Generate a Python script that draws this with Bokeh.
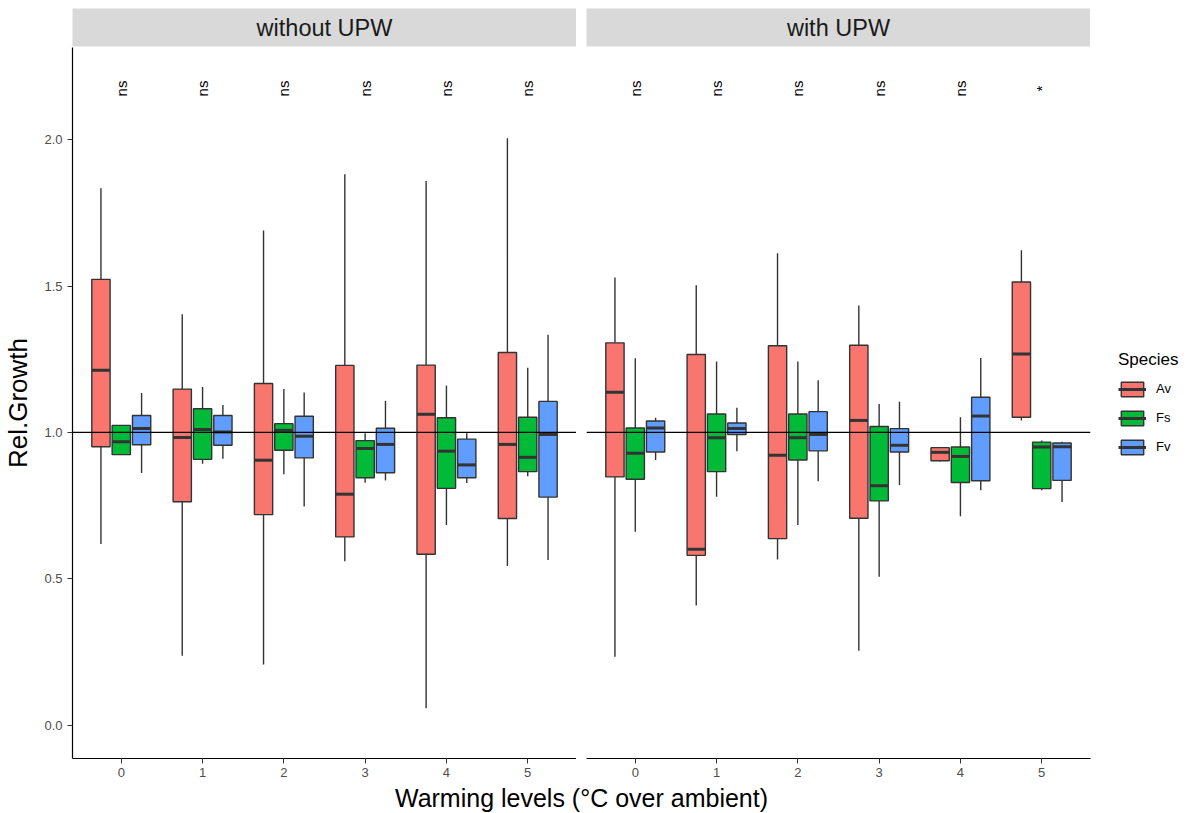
import numpy as np
from bokeh.plotting import figure
from bokeh.models import (Range1d, FixedTicker, Span, Label, Legend, LegendItem,
                          ColumnDataSource, NumeralTickFormatter)
from bokeh.layouts import column, row
from bokeh.embed import file_html
from bokeh.resources import INLINE
from bokeh.core.properties import value

# ---------------- data ----------------
levels = ["0", "1", "2", "3", "4", "5"]
species = ["Av", "Fs", "Fv"]
colors = ["#F8766D", "#00BA38", "#619CFF"]
facets = ["without UPW", "with UPW"]

# (lower whisker, Q1, median, Q3, upper whisker) per warming level 0..5
without_Av = [(0.619, 0.951, 1.212, 1.523, 1.834), (0.237, 0.763, 0.983, 1.148, 1.404),
              (0.207, 0.719, 0.905, 1.167, 1.690), (0.560, 0.643, 0.789, 1.229, 1.882),
              (0.058, 0.584, 1.062, 1.230, 1.859), (0.544, 0.706, 0.959, 1.273, 2.005)]
without_Fs = [(0.924, 0.924, 0.968, 1.024, 1.024), (0.893, 0.908, 1.010, 1.081, 1.155),
              (0.857, 0.939, 1.007, 1.030, 1.148), (0.828, 0.845, 0.945, 0.972, 0.997),
              (0.684, 0.809, 0.936, 1.050, 1.160), (0.850, 0.866, 0.915, 1.052, 1.221)]
without_Fv = [(0.861, 0.958, 1.013, 1.058, 1.135), (0.910, 0.956, 1.001, 1.058, 1.094),
              (0.747, 0.913, 0.987, 1.055, 1.136), (0.836, 0.862, 0.959, 1.014, 1.108),
              (0.827, 0.845, 0.889, 0.977, 0.997), (0.564, 0.779, 0.993, 1.106, 1.334)]
with_Av = [(0.234, 0.848, 1.137, 1.306, 1.529), (0.409, 0.580, 0.601, 1.266, 1.503),
           (0.566, 0.637, 0.922, 1.296, 1.612), (0.254, 0.707, 1.041, 1.298, 1.434),
           (0.901, 0.903, 0.932, 0.948, 0.950), (1.041, 1.052, 1.268, 1.514, 1.622)]
with_Fs = [(0.661, 0.840, 0.929, 1.015, 1.253), (0.780, 0.866, 0.982, 1.063, 1.242),
           (0.684, 0.906, 0.982, 1.063, 1.242), (0.507, 0.766, 0.818, 1.020, 1.097),
           (0.714, 0.829, 0.918, 0.950, 1.052), (0.802, 0.808, 0.950, 0.967, 0.972)]
with_Fv = [(0.906, 0.933, 1.015, 1.039, 1.050), (0.936, 0.993, 1.013, 1.032, 1.084),
           (0.833, 0.937, 0.993, 1.071, 1.178), (0.820, 0.933, 0.956, 1.013, 1.105),
           (0.802, 0.835, 1.056, 1.120, 1.254), (0.762, 0.836, 0.951, 0.964, 0.968)]

sig_without = ["ns", "ns", "ns", "ns", "ns", "ns"]
sig_with = ["ns", "ns", "ns", "ns", "ns", "*"]
sig_y = 2.175
ref_line = 1.0
y_ticks = [0.0, 0.5, 1.0, 1.5, 2.0]

# ---------------- style ----------------
FONT = "Liberation Sans"
EDGE = "#333333"
DODGE = [-0.25, 0.0, 0.25]
BOX_W = 0.225
yr = Range1d(-0.114, 2.315)


def make_panel(series, sig, left_border, show_y):
    p = figure(frame_width=504, frame_height=711,
               x_range=Range1d(-0.6, 5.6), y_range=yr,
               output_backend="svg", toolbar_location=None,
               min_border_left=left_border, min_border_right=0,
               min_border_top=0, min_border_bottom=25,
               y_axis_location="left" if show_y else None)
    p.outline_line_color = None
    p.grid.visible = False
    p.background_fill_color = "white"

    xa = p.xaxis[0]
    xa.ticker = FixedTicker(ticks=list(range(len(levels))))
    xa.major_label_overrides = {i: lab for i, lab in enumerate(levels)}
    xa.major_label_text_font = FONT
    xa.major_label_text_font_size = "13px"
    xa.major_label_text_color = "#4D4D4D"
    xa.major_label_standoff = 4
    xa.axis_line_color = "black"
    xa.axis_line_width = 1.2
    xa.major_tick_line_color = EDGE
    xa.major_tick_in = 0
    xa.major_tick_out = 5
    xa.minor_tick_line_color = None

    if show_y:
        ya = p.yaxis[0]
        ya.ticker = FixedTicker(ticks=y_ticks)
        ya.formatter = NumeralTickFormatter(format="0.0")
        ya.major_label_text_font = FONT
        ya.major_label_text_font_size = "13px"
        ya.major_label_text_color = "#4D4D4D"
        ya.major_label_standoff = 5
        ya.axis_line_color = "black"
        ya.axis_line_width = 1.2
        ya.major_tick_line_color = EDGE
        ya.major_tick_in = 0
        ya.major_tick_out = 5
        ya.minor_tick_line_color = None
        ya.axis_label = "Rel.Growth"
        ya.axis_label_text_font = FONT
        ya.axis_label_text_font_size = "26px"
        ya.axis_label_text_font_style = "normal"
        ya.axis_label_text_color = "black"
        ya.axis_label_standoff = 8

    renderers = {}
    for i, sp in enumerate(species):
        stats = np.array(series[i])
        x = np.arange(len(levels)) + DODGE[i]
        src = ColumnDataSource(dict(x=x, lo=stats[:, 0], q1=stats[:, 1], med=stats[:, 2],
                                    q3=stats[:, 3], hi=stats[:, 4],
                                    left=x - BOX_W / 2, right=x + BOX_W / 2))
        p.segment(x0="x", y0="lo", x1="x", y1="q1", source=src, line_color=EDGE, line_width=1.4)
        p.segment(x0="x", y0="q3", x1="x", y1="hi", source=src, line_color=EDGE, line_width=1.4)
        box = p.vbar(x="x", width=BOX_W, bottom="q1", top="q3", source=src,
                     fill_color=colors[i], line_color=EDGE, line_width=1.4)
        med = p.segment(x0="left", y0="med", x1="right", y1="med", source=src,
                        line_color=EDGE, line_width=3)
        renderers[sp] = (box, med)

    p.add_layout(Span(location=ref_line, dimension="width", line_color="black", line_width=1.4))

    p.text(x=list(range(len(levels))), y=[sig_y] * len(levels), text=sig,
           angle=np.pi / 2, text_align="center", text_baseline="middle",
           text_font=value(FONT), text_font_size="15px", text_color="black")
    return p, renderers


def make_strip(label, left_border):
    s = figure(frame_width=504, frame_height=38, output_backend="svg",
               toolbar_location=None, min_border_left=left_border, min_border_right=0,
               min_border_top=8, min_border_bottom=1,
               x_axis_location=None, y_axis_location=None,
               x_range=Range1d(0, 1), y_range=Range1d(0, 1))
    s.outline_line_color = None
    s.grid.visible = False
    s.background_fill_color = "#D9D9D9"
    s.add_layout(Label(x=252, y=19, x_units="screen", y_units="screen", text=label,
                       text_align="center", text_baseline="middle",
                       text_font=FONT, text_font_size="23.5px", text_color="#1A1A1A"))
    return s


p1, r1 = make_panel([without_Av, without_Fs, without_Fv], sig_without, 72, True)
p2, r2 = make_panel([with_Av, with_Fs, with_Fv], sig_with, 10, False)

items = [LegendItem(label=sp, renderers=list(r2[sp])) for sp in species]
legend = Legend(items=items, title="Species", location="center_left")
legend.title_text_font = FONT
legend.title_text_font_size = "17px"
legend.title_text_font_style = "normal"
legend.title_text_color = "black"
legend.label_text_font = FONT
legend.label_text_font_size = "13px"
legend.label_text_color = "black"
legend.glyph_width = 28
legend.glyph_height = 18
legend.spacing = 11
legend.padding = 0
legend.margin = 28
legend.label_standoff = 10
legend.title_standoff = 10
legend.border_line_color = None
legend.background_fill_alpha = 0
p2.add_layout(legend, "right")

s1 = make_strip(facets[0], 72)
s2 = make_strip(facets[1], 10)

t = figure(width=1170, height=30, output_backend="svg", toolbar_location=None,
           min_border=0, x_axis_location=None, y_axis_location=None,
           x_range=Range1d(0, 1), y_range=Range1d(0, 1))
t.outline_line_color = None
t.grid.visible = False
t.add_layout(Label(x=581, y=16, x_units="screen", y_units="screen",
                   text="Warming levels (°C over ambient)", text_align="center",
                   text_baseline="middle", text_font=FONT, text_font_size="25px",
                   text_color="black"))

layout = column(row(s1, s2), row(p1, p2), t)
open("out.html", "w").write(file_html(layout, INLINE))
